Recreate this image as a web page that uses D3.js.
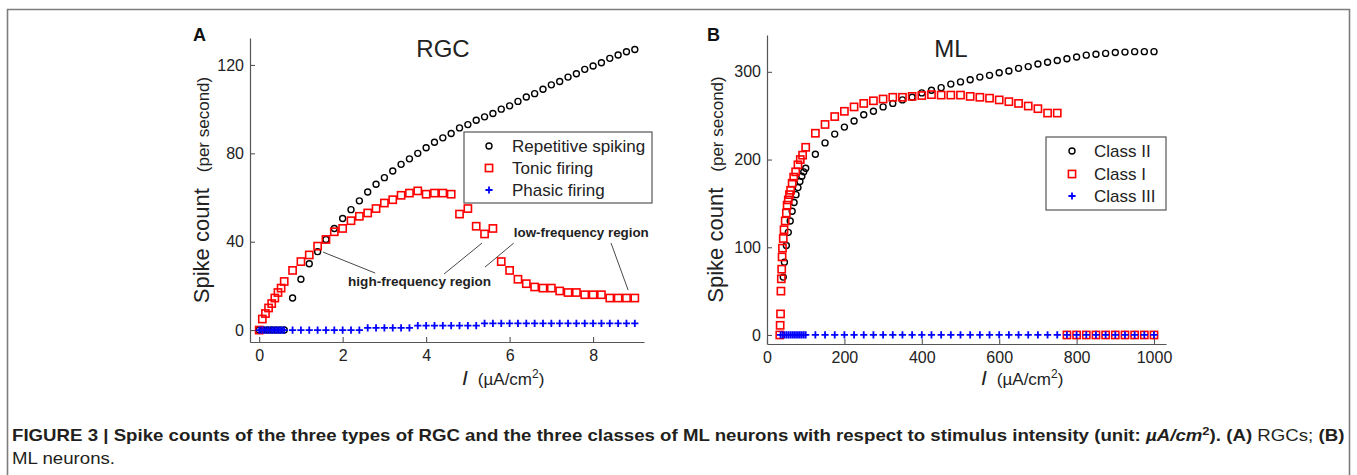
<!DOCTYPE html>
<html>
<head>
<meta charset="utf-8">
<script src="https://cdn.jsdelivr.net/npm/d3@7"></script>
<style>
body { margin: 0; background: #fff; }
svg text { font-family: "Liberation Sans", Arial, Helvetica, sans-serif; }
svg text.caption { font-family: "Liberation Sans Narrow", "Liberation Sans", Arial, sans-serif; }
</style>
</head>
<body>
<div id="fig"></div>
<script>
// ---------------------------------------------------------------- data
// panel A (RGC) stimulus grids
const rgcFineI = [0, 0.05, 0.1, 0.15, 0.2, 0.25, 0.3, 0.35, 0.4, 0.45, 0.5, 0.55, 0.6];
const rgcTonicFineI = [0, 0.075, 0.15, 0.225, 0.3, 0.375, 0.45, 0.525, 0.6];
const rgcI = [0.8, 1.0, 1.2, 1.4, 1.6, 1.8, 2.0, 2.2, 2.4, 2.6, 2.8, 3.0, 3.2, 3.4, 3.6, 3.8, 4.0,
    4.2, 4.4, 4.6, 4.8, 5.0, 5.2, 5.4, 5.6, 5.8, 6.0, 6.2, 6.4, 6.6, 6.8, 7.0, 7.2, 7.4, 7.6, 7.8,
    8.0, 8.2, 8.4, 8.6, 8.8, 9.0];

const repetitiveFineI = [0, 0.1, 0.2, 0.3, 0.4, 0.5, 0.6];
const repetitiveFine = [0, 0, 0, 0, 0, 0, 0];
const repetitive = [14.5, 23, 30, 35.5, 41, 46, 50.5, 54.5, 58.5, 62.5, 66, 69, 72, 75, 77.5, 80, 82.5,
    85, 87, 89, 91.5, 93, 95, 96.5, 98, 100, 101.5, 103.5, 105.5, 107, 109, 111, 112.5, 114.5, 116, 118,
    119.5, 121, 123, 124.5, 126, 127];

const tonicFine = [0, 5, 7.5, 10, 12, 14.5, 17, 19, 22];
const tonic = [27, 31, 34, 38, 41, 44.5, 46, 49.5, 51.5, 53, 55, 57.5, 59, 61, 62, 63, 61.5,
    62, 62, 61.5, 52.5, 55, 47, 43.5, 46, 31, 27, 23, 21, 19.5, 19, 19, 17.7, 17, 17, 16,
    16, 16, 14.5, 14.5, 14.5, 14.5];

const phasicFine = [0, 0, 0, 0, 0, 0, 0, 0, 0, 0, 0, 0, 0];
const phasic = [0, 0, 0, 0, 0, 0, 0, 0, 0, 1, 1, 1, 1, 1, 1, 2, 2,
    2, 2, 2, 2, 2, 2, 3, 3, 3, 3, 3, 3, 3, 3, 3, 3, 3, 3, 3,
    3, 3, 3, 3, 3, 3];

const rgcXTicks = [0, 2, 4, 6, 8];
const rgcYTicks = [0, 40, 80, 120];

// panel B (ML) stimulus grids
const mlI = [100, 125, 150, 175, 200, 225, 250, 275, 300, 325, 350, 375, 400, 425, 450, 475, 500,
    525, 550, 575, 600, 625, 650, 675, 700, 725, 750, 775, 800, 825, 850, 875, 900, 925, 950, 975, 1000];

const class2FineI = [42, 45, 50, 55, 60, 65, 70, 75, 80, 85, 90, 95];
const class2Fine = [66, 83, 102, 117, 130, 141, 151, 160, 168, 175, 181, 186];
const class2 = [190, 206, 219, 229, 237, 244, 251, 255, 260, 264, 268, 271, 276, 279, 282, 286, 288.5,
    291, 294, 296, 299, 301, 304, 306, 309, 311, 313, 315, 317, 319, 320, 321, 322, 322.5, 323, 323, 323];

const class1FineI = [33, 34, 35, 36, 37, 38, 39, 40, 42, 44, 47, 50, 52, 55, 58, 61, 65, 69, 74, 80, 86, 92];
const class1Fine = [0, 11, 24, 50, 64, 75, 89, 99, 110, 120, 130, 139, 148, 154, 160, 165, 173, 180, 186, 194, 200, 205];
const class1 = [214, 230, 240, 249, 255, 260, 264, 267, 269, 271, 271, 272, 273, 274, 273.5, 273.5, 273.5,
    272, 271, 270, 268, 266, 264, 261, 258, 253, 253, 0, 0, 0, 0, 0, 0, 0, 0, 0, 0];

const class3FineI = [35, 40, 45, 50, 55, 60, 65, 70, 75, 80, 85, 90, 95];
const class3Fine = [0, 0, 0, 0, 0, 0, 0, 0, 0, 0, 0, 0, 0];
const class3 = [0, 0, 0, 0, 0, 0, 0, 0, 0, 0, 0, 0, 0, 0, 0, 0, 0,
    0, 0, 0, 0, 0, 0, 0, 0, 0, 0, 0, 0, 0, 0, 0, 0, 0, 0, 0, 0];

const mlXTicks = [0, 200, 400, 600, 800, 1000];
const mlYTicks = [0, 100, 200, 300];

const zip = (xs, ys) => xs.map((x, i) => ({x: x, y: ys[i]}));

// ---------------------------------------------------------------- page
const W = 1357, H = 475;
const svg = d3.select("#fig").append("svg").attr("width", W).attr("height", H);

svg.append("path")
    .attr("d", "M7.5,476V9.5H1349.5V476")
    .attr("fill", "none")
    .attr("stroke", "#7d7d7d")
    .attr("stroke-width", 1.6);

const markers = {
    circle: (g) => g.append("circle").attr("r", 3).attr("fill", "none")
        .attr("stroke", "#000").attr("stroke-width", 1.4),
    square: (g) => g.append("rect").attr("x", -3.6).attr("y", -3.6).attr("width", 7.2).attr("height", 7.2)
        .attr("fill", "none").attr("stroke", "#ff0000").attr("stroke-width", 1.6),
    cross: (g) => g.append("path").attr("d", "M-3.6,0H3.6M0,-3.6V3.6").attr("fill", "none")
        .attr("stroke", "#0000ff").attr("stroke-width", 1.8)
};

function drawPanel(p) {
    const g = svg.append("g");
    const x = d3.scaleLinear().domain(p.xDomain).range(p.xRange);
    const y = d3.scaleLinear().domain(p.yDomain).range(p.yRange);

    const xAxis = g.append("g")
        .attr("transform", `translate(0,${p.yRange[0]})`)
        .call(d3.axisBottom(x).tickValues(p.xTicks).tickFormat(d3.format("d"))
            .tickSizeInner(-5).tickSizeOuter(0).tickPadding(8));
    const yAxis = g.append("g")
        .attr("transform", `translate(${p.xRange[0]},0)`)
        .call(d3.axisLeft(y).tickValues(p.yTicks).tickFormat(d3.format("d"))
            .tickSizeInner(-5).tickSizeOuter(0).tickPadding(6));
    [xAxis, yAxis].forEach(a => {
        a.select(".domain").attr("stroke", "#555").attr("stroke-width", 1.2);
        a.selectAll(".tick line").attr("stroke", "#555").attr("stroke-width", 1.1);
        a.selectAll(".tick text").attr("fill", "#222").style("font-size", "16px")
            .style("font-family", "'Liberation Sans', Arial, sans-serif");
    });

    // series
    p.series.forEach(s => {
        const pts = g.append("g").selectAll("g").data(s.data).enter().append("g")
            .attr("transform", d => `translate(${x(d.x)},${y(d.y)})`);
        markers[s.marker](pts);
    });

    // annotations
    (p.notes || []).forEach(n => {
        n.lines.forEach(l => {
            g.append("line")
                .attr("x1", x(l[0])).attr("y1", y(l[1]))
                .attr("x2", x(l[2])).attr("y2", y(l[3]))
                .attr("stroke", "#333").attr("stroke-width", 0.9);
        });
        g.append("text").text(n.text)
            .attr("x", x(n.at[0])).attr("y", y(n.at[1]))
            .attr("textLength", n.width).attr("lengthAdjust", "spacingAndGlyphs")
            .style("font-size", "13px").style("font-weight", "bold").attr("fill", "#222");
    });

    // titles and labels
    g.append("text").text(p.title)
        .attr("x", p.titleX).attr("y", 57).attr("text-anchor", "middle")
        .style("font-size", "24px").attr("fill", "#222");
    g.append("text").text(p.letter)
        .attr("x", p.letterX).attr("y", 41)
        .style("font-size", "18px").style("font-weight", "bold").attr("fill", "#111");

    const yl = g.append("text")
        .attr("transform", `translate(${p.ylabelX},${(p.yRange[0] + p.yRange[1]) / 2}) rotate(-90)`)
        .attr("text-anchor", "middle").attr("fill", "#222");
    yl.append("tspan").text("Spike count").style("font-size", "22px");
    yl.append("tspan").text("(per second)").attr("dx", 16).style("font-size", "17px");

    const xl = g.append("text").attr("x", p.xlabelX).attr("y", 385).attr("fill", "#222");
    xl.append("tspan").text("I").style("font-size", "21px").style("font-style", "italic");
    xl.append("tspan").text("(\u00b5A/cm").attr("dx", 10).style("font-size", "17px");
    xl.append("tspan").text("2").attr("dy", -7).style("font-size", "12px");
    xl.append("tspan").text(")").attr("dy", 7).style("font-size", "17px");

    // legend
    const L = p.legend;
    g.append("rect").attr("x", L.x).attr("y", L.y).attr("width", L.w).attr("height", L.h)
        .attr("fill", "#fff").attr("stroke", "#555").attr("stroke-width", 1.2);
    p.series.filter(s => s.label).forEach((s, i) => {
        const row = g.append("g").attr("transform", `translate(${L.markerX},${L.rows[i]})`);
        markers[s.marker](row);
        g.append("text").text(s.label)
            .attr("x", L.textX).attr("y", L.rows[i]).attr("dy", "0.35em")
            .style("font-size", "17px").attr("fill", "#222");
    });
}

drawPanel({
    xDomain: [-0.22, 9.22], xRange: [250, 644],
    yDomain: [-5.4, 132.2], yRange: [342, 38],
    xTicks: rgcXTicks, yTicks: rgcYTicks,
    title: "RGC", titleX: 443, letter: "A", letterX: 193,
    ylabelX: 209, xlabelX: 462,
    series: [
        {label: null, marker: "circle", data: zip(repetitiveFineI, repetitiveFine)},
        {label: "Repetitive spiking", marker: "circle", data: zip(rgcI, repetitive)},
        {label: null, marker: "square", data: zip(rgcTonicFineI, tonicFine)},
        {label: "Tonic firing", marker: "square", data: zip(rgcI, tonic)},
        {label: null, marker: "cross", data: zip(rgcFineI, phasicFine)},
        {label: "Phasic firing", marker: "cross", data: zip(rgcI, phasic)}
    ],
    notes: [
        {text: "high-frequency region", at: [2.13, 19.9], width: 143,
            lines: [[1.53, 35.3, 2.78, 25.8], [4.43, 25.4, 5.34, 39.4]]},
        {text: "low-frequency region", at: [6.1, 42.1], width: 135,
            lines: [[6.10, 39.4, 5.41, 28.5], [8.43, 39.4, 8.84, 18.1]]}
    ],
    legend: {x: 464, y: 132, w: 188, h: 71, markerX: 489, textX: 512, rows: [146, 168, 190]}
});

drawPanel({
    xDomain: [0, 1031], xRange: [767, 1166],
    yDomain: [-10.3, 342], yRange: [344, 35],
    xTicks: mlXTicks, yTicks: mlYTicks,
    title: "ML", titleX: 951, letter: "B", letterX: 707,
    ylabelX: 723, xlabelX: 981,
    series: [
        {label: null, marker: "circle", data: zip(class2FineI, class2Fine)},
        {label: "Class II", marker: "circle", data: zip(mlI, class2)},
        {label: null, marker: "square", data: zip(class1FineI, class1Fine)},
        {label: "Class I", marker: "square", data: zip(mlI, class1)},
        {label: null, marker: "cross", data: zip(class3FineI, class3Fine)},
        {label: "Class III", marker: "cross", data: zip(mlI, class3)}
    ],
    legend: {x: 1046, y: 137, w: 120, h: 73, markerX: 1072, textX: 1094, rows: [151, 174, 196]}
});

// ---------------------------------------------------------------- caption
const cap1 = svg.append("text").attr("class", "caption").attr("fill", "#231f20").style("font-size", "16.5px");
cap1.append("tspan").style("font-weight", "bold")
    .text("FIGURE 3 | Spike counts of the three types of RGC and the three classes of ML neurons with respect to stimulus intensity (unit: ");
cap1.append("tspan").style("font-weight", "bold").style("font-style", "italic").text("\u00b5A/cm");
cap1.append("tspan").style("font-weight", "bold").style("font-size", "11.5px").attr("dy", -6).text("2");
cap1.append("tspan").style("font-weight", "bold").attr("dy", 6).text("). (A)");
cap1.append("tspan").text(" RGCs; ");
cap1.append("tspan").style("font-weight", "bold").text("(B)");

const cap2 = svg.append("text").attr("class", "caption").attr("fill", "#231f20")
    .style("font-size", "16.5px").text("ML neurons.");

const capW = cap1.node().getBBox().width;
const sx = 1333 / capW;
cap1.attr("transform", `translate(12,441) scale(${sx},1)`);
cap2.attr("transform", `translate(12,464) scale(${sx},1)`);
</script>
</body>
</html>
